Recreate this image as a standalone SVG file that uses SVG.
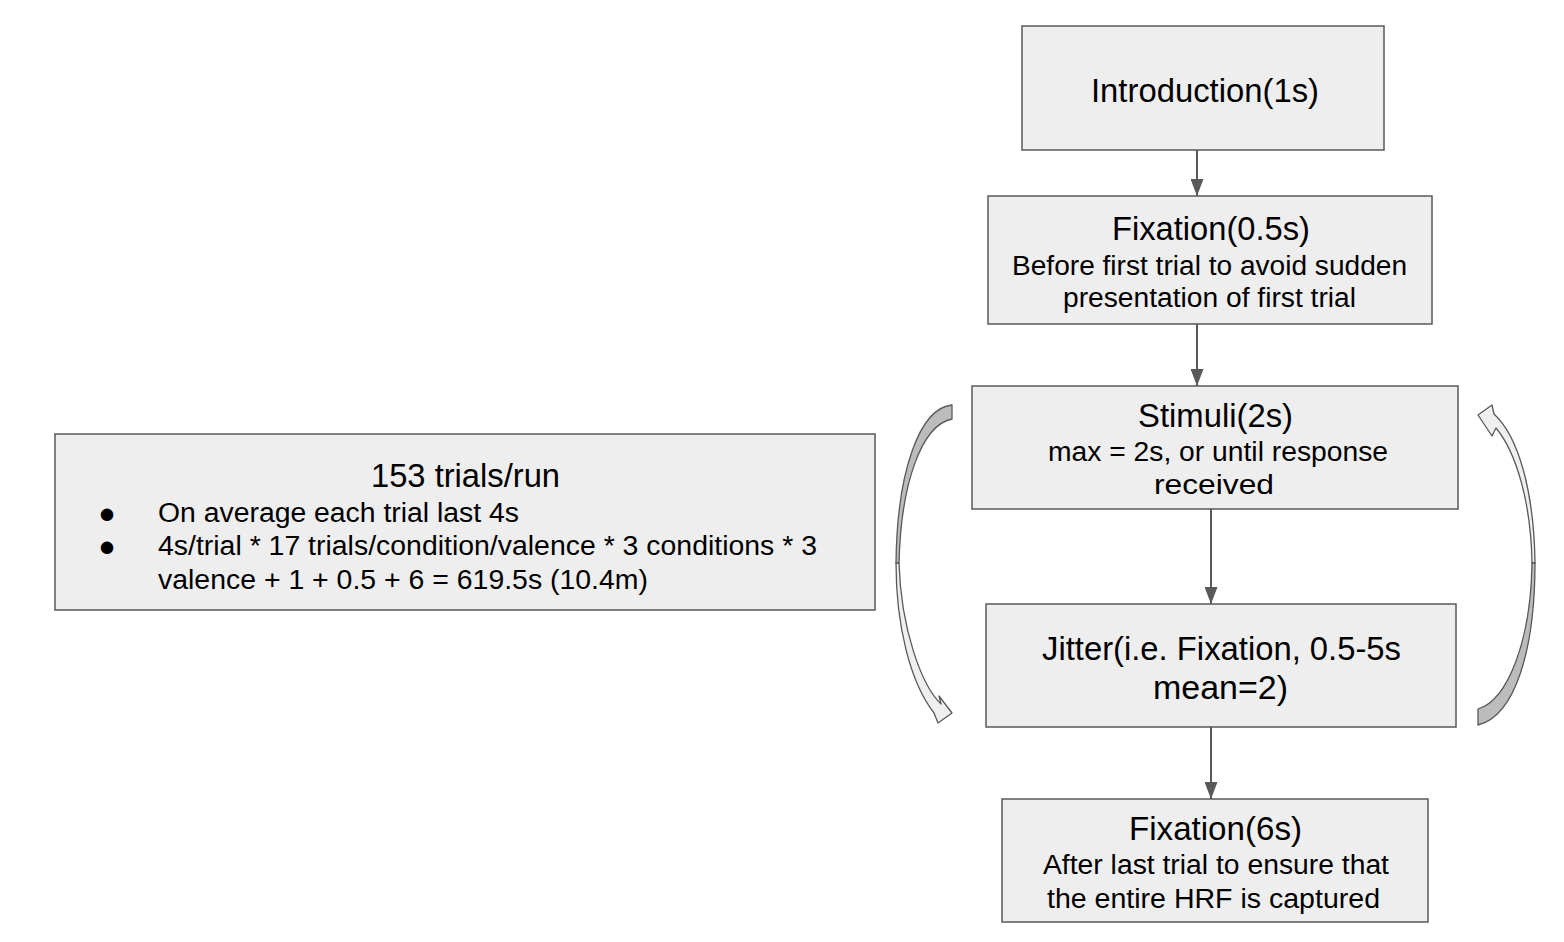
<svg xmlns="http://www.w3.org/2000/svg" width="1564" height="942" viewBox="0 0 1564 942">
<defs>
<style>
.box{fill:#eeeeee;stroke:#595959;stroke-width:1.5}
.t{font-family:"Liberation Sans",Arial,sans-serif;fill:#000}
.c{text-anchor:middle}
.h{font-size:33px}
.s{font-size:27px}
.b{font-size:29px}
.con{stroke:#595959;stroke-width:2;fill:none}
.dk{fill:#bcbcbc;stroke:#595959;stroke-width:1.3;stroke-linejoin:round}
.lt{fill:#efefef;stroke:#595959;stroke-width:1.3;stroke-linejoin:round}
</style>
<marker id="ah" markerUnits="userSpaceOnUse" markerWidth="17" markerHeight="13" refX="17" refY="6.5" orient="auto">
<path d="M0,0 L17,6.5 L0,13 Z" fill="#595959"/>
</marker>
</defs>
<rect width="1564" height="942" fill="#ffffff"/>

<g id="connectors">
<line class="con" x1="1197" y1="150" x2="1197" y2="196" marker-end="url(#ah)"/>
<line class="con" x1="1197" y1="324" x2="1197" y2="386" marker-end="url(#ah)"/>
<line class="con" x1="1211" y1="509" x2="1211" y2="604" marker-end="url(#ah)"/>
<line class="con" x1="1211" y1="727" x2="1211" y2="799" marker-end="url(#ah)"/>
<g id="loop-left">
<path class="dk" d="M952,405 C920,408 897,470 896,563 L899,563 C901,482 922,425 952,419 Z"/>
<path class="lt" d="M896,563 C896,625 910,682 934,713 L938,723 L952,713 L939,696 L941,704 C922,686 901,630 899,563 Z"/>
</g>
<g id="loop-right">
<path class="lt" d="M1535,563 C1534,490 1518,436 1494,414 L1492,405 L1478,415 L1492,436 L1496,428 C1516,452 1531,502 1532,563 Z"/>
<path class="dk" d="M1535,563 C1535,650 1515,716 1478,725 L1478,709 C1508,700 1531,640 1532,563 Z"/>
</g>
</g>

<g id="intro">
<rect class="box" x="1022" y="26" width="362" height="124"/>
<text class="t c h" x="1205" y="102" textLength="228" lengthAdjust="spacingAndGlyphs">Introduction(1s)</text>
</g>

<g id="fixation1">
<rect class="box" x="988" y="196" width="444" height="128"/>
<text class="t c h" x="1211" y="240" textLength="198" lengthAdjust="spacingAndGlyphs">Fixation(0.5s)</text>
<text class="t c s" x="1209.5" y="275" textLength="395" lengthAdjust="spacingAndGlyphs">Before first trial to avoid sudden</text>
<text class="t c s" x="1209.5" y="307" textLength="293" lengthAdjust="spacingAndGlyphs">presentation of first trial</text>
</g>

<g id="stimuli">
<rect class="box" x="972" y="386" width="486" height="123"/>
<text class="t c h" x="1215.5" y="427" textLength="155" lengthAdjust="spacingAndGlyphs">Stimuli(2s)</text>
<text class="t c s" x="1218" y="461" textLength="340" lengthAdjust="spacingAndGlyphs">max = 2s, or until response</text>
<text class="t c s" x="1214" y="494" textLength="120" lengthAdjust="spacingAndGlyphs">received</text>
</g>

<g id="jitter">
<rect class="box" x="986" y="604" width="470" height="123"/>
<text class="t c h" x="1221.5" y="660" textLength="359" lengthAdjust="spacingAndGlyphs">Jitter(i.e. Fixation, 0.5-5s</text>
<text class="t c h" x="1220.5" y="699" textLength="135" lengthAdjust="spacingAndGlyphs">mean=2)</text>
</g>

<g id="fixation2">
<rect class="box" x="1002" y="799" width="426" height="123"/>
<text class="t c h" x="1215.5" y="840" textLength="173" lengthAdjust="spacingAndGlyphs">Fixation(6s)</text>
<text class="t c s" x="1216" y="874" textLength="346" lengthAdjust="spacingAndGlyphs">After last trial to ensure that</text>
<text class="t c s" x="1213.5" y="908" textLength="333" lengthAdjust="spacingAndGlyphs">the entire HRF is captured</text>
</g>

<g id="summary">
<rect class="box" x="55" y="434" width="820" height="176"/>
<text class="t c h" x="465.5" y="487" textLength="189" lengthAdjust="spacingAndGlyphs">153 trials/run</text>
<text class="t c b" x="107" y="522.5">●</text>
<text class="t s" x="158" y="522" textLength="361" lengthAdjust="spacingAndGlyphs">On average each trial last 4s</text>
<text class="t c b" x="107" y="555.5">●</text>
<text class="t s" x="158" y="555" textLength="659" lengthAdjust="spacingAndGlyphs">4s/trial * 17 trials/condition/valence * 3 conditions * 3</text>
<text class="t s" x="158" y="589" textLength="490" lengthAdjust="spacingAndGlyphs">valence + 1 + 0.5 + 6 = 619.5s (10.4m)</text>
</g>
</svg>
